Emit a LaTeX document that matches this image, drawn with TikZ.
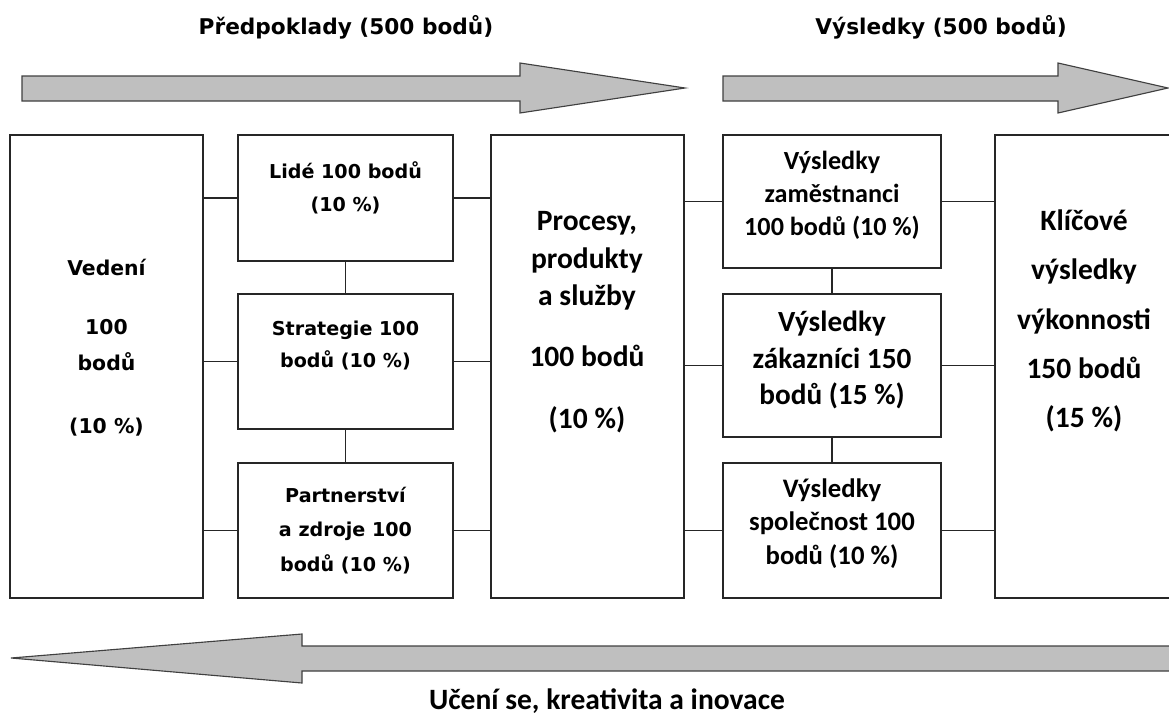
\documentclass[tikz,border=0pt]{standalone}
\usepackage{fontspec}
\newfontfamily\verdfont{DejaVu Sans}
\newfontfamily\calfont{Carlito}

\tikzset{
  box/.style={draw=black!85, line width=1.1pt, inner sep=0pt},
  boxsize/.style 2 args={minimum width=#1*0.025cm, minimum height=#2*0.025cm},
  link/.style={draw=black!85, line width=0.8pt},
  bigarrow/.style={draw=black!75, fill=black!25, line width=0.8pt},
  vtxt/.style 2 args={align=center, inner sep=0pt, font=\verdfont\bfseries\fontsize{#1}{#2}\selectfont},
  ctxt/.style 2 args={align=center, inner sep=0pt, font=\calfont\bfseries\fontsize{#1}{#2}\selectfont}
}

\begin{document}
\begin{tikzpicture}[x=0.025cm, y=-0.025cm]
    \useasboundingbox (0,0) rectangle (1169,718);
    \clip (0,0) rectangle (1169,718);

    % titles and big arrows
    \node[vtxt={15.4}{18}] (pred) at (346,27) {Předpoklady (500 bodů)};
    \node[vtxt={15.4}{18}] (vysl) at (941,27) {Výsledky (500 bodů)};
    \draw[bigarrow] (22,76) -- (520,76) -- (520,63) -- (685,88) -- (520,113) -- (520,101) -- (22,101) -- cycle;
    \draw[bigarrow] (723,76) -- (1058,76) -- (1058,63) -- (1168,88) -- (1058,113) -- (1058,101) -- (723,101) -- cycle;
    \draw[bigarrow] (11,658) -- (302,634) -- (302,646) -- (1185,646) -- (1185,671) -- (302,671) -- (302,683) -- cycle;
    \node[ctxt={21}{24}] (uceni) at (607,701) {Učení se, kreativita a inovace};

    % boxes
    \node[box, boxsize={193}{463}] (ved) at (106.5,366.5) {};
    \node[box, boxsize={215}{126}] (lide) at (345.5,198) {};
    \node[box, boxsize={215}{135}] (strat) at (345.5,361.5) {};
    \node[box, boxsize={215}{135}] (part) at (345.5,530.5) {};
    \node[box, boxsize={193}{463}] (proc) at (587.5,366.5) {};
    \node[box, boxsize={218}{133}] (zam) at (832,201.5) {};
    \node[box, boxsize={218}{143}] (zak) at (832,365.5) {};
    \node[box, boxsize={218}{135}] (spol) at (832,530.5) {};
    \node[box, boxsize={190}{463}] (klic) at (1090,366.5) {};

    % box texts
    \node[vtxt={14.5}{26}] (vedt) at (106.5,347.5) {Vedení\\[16pt]100\\bodů\\[18.5pt](10 \%)};
    \node[vtxt={13.6}{23.4}] (lidet) at (345.5,187.5) {Lidé 100 bodů\\(10 \%)};
    \node[vtxt={13.6}{23.4}] (stratt) at (345.5,345.5) {Strategie 100\\bodů (10 \%)};
    \node[vtxt={13.6}{24.4}] (partt) at (345.5,530.5) {Partnerství\\a zdroje 100\\bodů (10 \%)};
    \node[ctxt={21}{26.6}] (proct) at (587,322.5) {Procesy,\\produkty\\a služby\\[16.6pt]100 bodů\\[18pt](10 \%)};
    \node[ctxt={18.6}{23.4}] (zamt) at (832,195) {Výsledky\\zaměstnanci\\100 bodů (10 \%)};
    \node[ctxt={20.8}{26.2}] (zakt) at (832,360) {Výsledky\\zákazníci 150\\bodů (15 \%)};
    \node[ctxt={19}{23.7}] (spolt) at (832,523.5) {Výsledky\\společnost 100\\bodů (10 \%)};
    \node[ctxt={21}{35}] (klict) at (1084,321) {Klíčové\\výsledky\\výkonnosti\\150 bodů\\(15 \%)};

    % connectors
    \draw[link] (ved.east |- lide.west) -- (lide.west);
    \draw[link] (ved.east |- strat.west) -- (strat.west);
    \draw[link] (ved.east |- part.west) -- (part.west);
    \draw[link] (lide.east) -- (proc.west |- lide.east);
    \draw[link] (strat.east) -- (proc.west |- strat.east);
    \draw[link] (part.east) -- (proc.west |- part.east);
    \draw[link] (proc.east |- zam.west) -- (zam.west);
    \draw[link] (proc.east |- zak.west) -- (zak.west);
    \draw[link] (proc.east |- spol.west) -- (spol.west);
    \draw[link] (zam.east) -- (klic.west |- zam.east);
    \draw[link] (zak.east) -- (klic.west |- zak.east);
    \draw[link] (spol.east) -- (klic.west |- spol.east);
    \draw[link] (lide) -- (strat);
    \draw[link] (strat) -- (part);
    \draw[link] (zam) -- (zak);
    \draw[link] (zak) -- (spol);
\end{tikzpicture}
\end{document}
